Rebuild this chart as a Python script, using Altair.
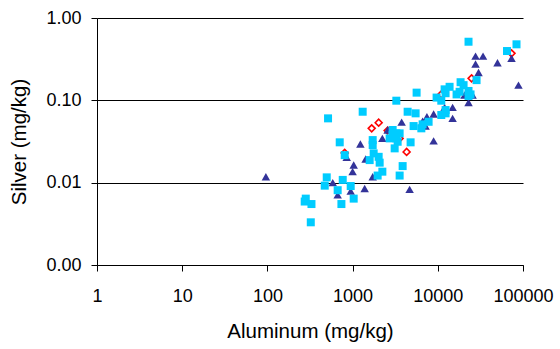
import altair as alt
import pandas as pd

# Aluminum vs silver concentrations (mg/kg), three sample groups
tri_al = [96, 585, 668, 950, 1386, 853, 1030, 1000, 1234, 1423, 1721, 2235, 2578,
          3765, 4670, 6635, 7190, 7450, 8930, 8930, 12020, 14920, 14920, 20600,
          25590, 22940, 27730, 33970, 27730, 30080, 50220, 73330, 88500]
tri_ag = [0.0118, 0.0100, 0.0071, 0.0079, 0.0085, 0.0203, 0.0164, 0.0136, 0.0295,
          0.0194, 0.0118, 0.0345, 0.0436, 0.0543, 0.0083, 0.0560, 0.0487, 0.0632,
          0.0682, 0.0322, 0.0820, 0.0820, 0.0604, 0.116, 0.116, 0.094, 0.345,
          0.345, 0.276, 0.218, 0.286, 0.324, 0.153]

sq_al = [282, 274, 329, 323, 497, 471, 766, 668, 950, 1030, 739, 515, 1313, 706,
         808, 1721, 1721, 1767, 1586, 2022, 2078, 2235, 1968, 3260, 4425, 5490,
         2952, 3260, 3565, 2952, 2722, 3260, 3378, 3117, 4795, 3867, 3565, 5200,
         6410, 6635, 7800, 10990, 12340, 12340, 5640, 9680, 10990, 12020, 12340,
         13750, 16610, 18020, 18510, 20070, 22940, 22940, 24230, 28510, 22940,
         64930, 83900]
sq_ag = [0.0064, 0.0059, 0.0055, 0.0033, 0.0116, 0.0092, 0.0108, 0.0081, 0.0091,
         0.0064, 0.0055, 0.0604, 0.0727, 0.0309, 0.0216, 0.0329, 0.0286, 0.0227,
         0.0188, 0.0206, 0.0175, 0.0136, 0.0122, 0.099, 0.0727, 0.0695, 0.0436,
         0.0397, 0.0397, 0.0379, 0.0345, 0.0345, 0.0314, 0.0261, 0.0309, 0.0159,
         0.0122, 0.0487, 0.0457, 0.0511, 0.0549, 0.0663, 0.0695, 0.0762, 0.124,
         0.108, 0.099, 0.136, 0.122, 0.146, 0.118, 0.127, 0.166, 0.153, 0.130,
         0.113, 0.118, 0.176, 0.515, 0.397, 0.479]

dia_al = [808, 1675, 2022, 2578, 3565, 4305, 10990, 24910, 73330]
dia_ag = [0.0230, 0.0457, 0.0535, 0.0430, 0.0345, 0.0236, 0.118, 0.185, 0.372]

x_ticks = [1, 10, 100, 1000, 10000, 100000]
y_ticks = [0.001, 0.01, 0.1, 1]

FONT = "Liberation Sans"

x_enc = alt.X(
    "al:Q",
    scale=alt.Scale(type="log", domain=[1, 100000]),
    axis=alt.Axis(values=x_ticks, format="d", grid=False, title="Aluminum (mg/kg)",
                  labelFlush=False, labelOverlap=False, labelPadding=16,
                  titleY=72, titleBaseline="alphabetic"),
)
y_enc = alt.Y(
    "ag:Q",
    scale=alt.Scale(type="log", domain=[0.001, 1]),
    axis=alt.Axis(values=y_ticks, format=".2f", grid=True, title="Silver (mg/kg)",
                  labelFlush=False, labelOverlap=False, labelPadding=10,
                  titleX=-72, titleBaseline="alphabetic"),
)


def frame(al, ag):
    return pd.DataFrame({"al": al, "ag": ag})


diamonds = alt.Chart(frame(dia_al, dia_ag)).mark_point(
    shape="diamond", size=48, filled=False, color="#FF0000", strokeWidth=1.6, opacity=1
).encode(x=x_enc, y=y_enc)

triangles = alt.Chart(frame(tri_al, tri_ag)).mark_point(
    shape="triangle-up", size=72, filled=True, color="#333399", opacity=1
).encode(x=x_enc, y=y_enc)

squares = alt.Chart(frame(sq_al, sq_ag)).mark_point(
    shape="square", size=64, filled=True, color="#00CCFF", opacity=1
).encode(x=x_enc, y=y_enc)

chart = (
    alt.layer(diamonds, triangles, squares)
    .properties(
        width=426,
        height=247,
        autosize=alt.AutoSizeParams(type="none"),
        padding={"left": 97, "top": 18, "right": 37, "bottom": 84},
        background="white",
    )
    .configure_view(stroke=None)
    .configure_axis(
        domainColor="black",
        tickColor="black",
        gridColor="black",
        gridOpacity=1,
        gridWidth=1,
        domainWidth=1,
        tickSize=6,
        labelColor="black",
        titleColor="black",
        labelFont=FONT,
        titleFont=FONT,
        labelFontSize=18,
        titleFontSize=20.5,
        titleFontWeight="normal",
    )
)

chart.save("out.html", embed_options={"renderer": "svg", "actions": False})
